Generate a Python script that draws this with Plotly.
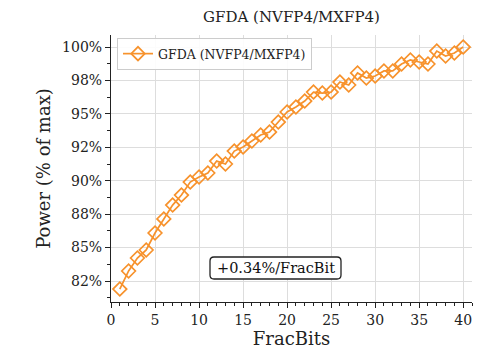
import plotly.graph_objects as go

# Normalised power per number of fractional bits
frac_bits = list(range(1, 41))
power_pct = [
    81.90, 83.25, 84.22, 84.82, 86.09, 87.14, 88.18, 88.93, 89.90, 90.28,
    90.58, 91.47, 91.25, 92.22, 92.52, 92.97, 93.42, 93.64, 94.39, 95.14,
    95.51, 95.96, 96.63, 96.56, 96.63, 97.38, 97.16, 98.06, 97.68, 97.83,
    98.21, 98.21, 98.73, 99.03, 98.88, 98.73, 99.70, 99.33, 99.55, 100.00,
]
series_name = "GFDA (NVFP4/MXFP4)"
slope_label = "+0.34%/FracBit"

y_tick_vals = [82.5, 85.0, 87.5, 90.0, 92.5, 95.0, 97.5, 100.0]
y_tick_text = [f"{v:.0f}%" for v in y_tick_vals]
x_tick_vals = [0, 5, 10, 15, 20, 25, 30, 35, 40]

ORANGE = "#f7922c"
FONT = "DejaVu Serif"
INK = "#222222"

fig = go.Figure()
fig.add_trace(go.Scatter(
    x=frac_bits, y=power_pct, name=series_name,
    mode="lines+markers",
    line=dict(color=ORANGE, width=1.7),
    marker=dict(symbol="diamond-open", size=10.5, color=ORANGE,
                line=dict(color=ORANGE, width=1.7)),
))

W, H = 485, 354
L, R, T, B = 111, 13, 35, 52
pw, ph = W - L - R, H - T - B

def px(x):
    return (x - L) / pw

def py(y):
    return (H - B - y) / ph

# rounded box behind the slope label
bx0, bx1, by0, by1 = 210, 341, 257, 279
r = 4
path = (
    f"M {px(bx0 + r)} {py(by0)} L {px(bx1 - r)} {py(by0)} "
    f"Q {px(bx1)} {py(by0)} {px(bx1)} {py(by0 + r)} "
    f"L {px(bx1)} {py(by1 - r)} Q {px(bx1)} {py(by1)} {px(bx1 - r)} {py(by1)} "
    f"L {px(bx0 + r)} {py(by1)} Q {px(bx0)} {py(by1)} {px(bx0)} {py(by1 - r)} "
    f"L {px(bx0)} {py(by0 + r)} Q {px(bx0)} {py(by0)} {px(bx0 + r)} {py(by0)} Z"
)
fig.add_shape(type="path", path=path, xref="paper", yref="paper",
              line=dict(color=INK, width=1.3), fillcolor="white", layer="above")
fig.add_annotation(
    x=px((bx0 + bx1) / 2), y=py((by0 + by1) / 2), xref="paper", yref="paper",
    xanchor="center", yanchor="middle",
    text=slope_label, showarrow=False,
    font=dict(family=FONT, size=14.5, color="#111111"),
)

fig.update_layout(
    width=W, height=H,
    margin=dict(l=L, r=R, t=T, b=B),
    paper_bgcolor="white", plot_bgcolor="white",
    font=dict(family=FONT, color=INK),
    title=dict(text=series_name, x=(L + pw / 2) / W, xanchor="center",
               y=1 - 17 / H, yanchor="middle",
               font=dict(family=FONT, size=15, color=INK)),
    showlegend=True,
    legend=dict(x=px(117), y=py(38), xanchor="left", yanchor="top",
                bgcolor="rgba(255,255,255,0.9)", bordercolor="#cccccc", borderwidth=1,
                font=dict(family=FONT, size=12.5, color=INK),
                itemwidth=30, tracegroupgap=0),
)
fig.update_xaxes(
    range=[0, 41], tickvals=x_tick_vals,
    showline=True, linecolor=INK, linewidth=1.2, mirror=False,
    ticks="outside", ticklen=5, tickcolor=INK, tickwidth=1,
    minor=dict(dtick=1, ticks="outside", ticklen=3, tickcolor=INK, showgrid=False),
    showgrid=True, gridcolor="#dddddd", gridwidth=1, zeroline=False,
    tickfont=dict(family=FONT, size=14, color=INK),
    title=dict(text="FracBits", font=dict(family=FONT, size=18, color=INK), standoff=2),
)
fig.update_yaxes(
    range=[80.93, 100.90], tickvals=y_tick_vals, ticktext=y_tick_text,
    showline=True, linecolor=INK, linewidth=1.2, mirror=False,
    ticks="outside", ticklen=5, tickcolor=INK, tickwidth=1,
    minor=dict(tick0=81.25, dtick=1.25, ticks="outside", ticklen=3, tickcolor=INK, showgrid=False),
    showgrid=True, gridcolor="#dddddd", gridwidth=1, zeroline=False,
    tickfont=dict(family=FONT, size=14, color=INK),
    title=dict(text="Power (% of max)", font=dict(family=FONT, size=18, color=INK), standoff=6),
)

fig.write_html("out.html")
